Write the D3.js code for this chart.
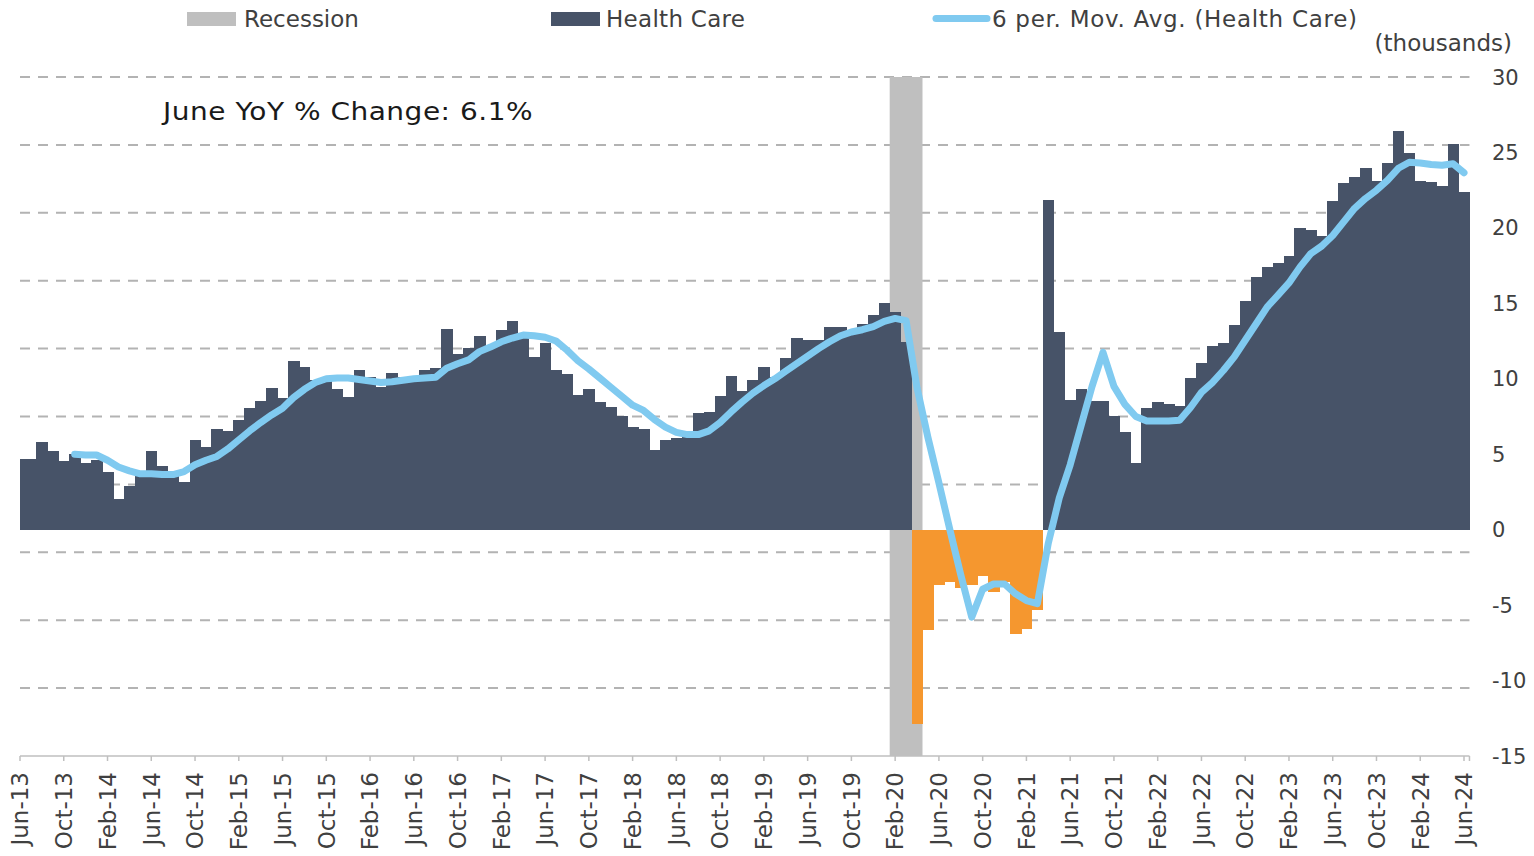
<!DOCTYPE html>
<html>
<head>
<meta charset="utf-8">
<script src="https://cdn.jsdelivr.net/npm/d3@7"></script>
<style>
  html, body { margin: 0; padding: 0; background: #ffffff; }
  svg { display: block; font-family: "DejaVu Sans", Verdana, sans-serif; }
</style>
</head>
<body>
<svg id="chart" width="1534" height="856"></svg>
<script>
// ---------------- DATA ----------------
// Monthly categories: Jun-13 ... Jun-24 (133 months)
const startMonth = new Date(2013, 5, 1);
const endMonth = new Date(2024, 6, 1);
const months = d3.timeMonth.range(startMonth, endMonth);
const fmt = d3.timeFormat("%b-%y");
const categories = months.map(fmt);

// Health Care, YoY change (thousands)
const healthCare = [
  4.7, 4.7, 5.8, 5.2, 4.55, 5.0, 4.45, 4.6, 3.8, 2.05,
  2.9, 3.9, 5.2, 4.2, 3.8, 3.15, 5.95, 5.45, 6.65, 6.55,
  7.3, 8.05, 8.55, 9.4, 8.75, 11.15, 10.8, 9.95, 9.95, 9.35,
  8.8, 10.6, 10.1, 9.45, 10.4, 10.1, 10.15, 10.55, 10.7, 13.3,
  11.65, 12.05, 12.85, 12.2, 13.2, 13.8, 13.0, 11.45, 12.35, 10.6,
  10.3, 8.9, 9.3, 8.45, 8.1, 7.55, 6.8, 6.7, 5.3, 5.95,
  6.1, 6.3, 7.7, 7.8, 8.85, 10.2, 9.2, 9.9, 10.8, 10.1,
  11.4, 12.7, 12.6, 12.6, 13.4, 13.4, 13.0, 13.6, 14.2, 15.0,
  14.4, 12.45, -12.9, -6.65, -3.65, -3.45, -3.85, -3.7, -3.1, -4.15,
  -3.5, -6.9, -6.6, -5.35, 21.85, 13.1, 8.6, 9.35, 8.55, 8.5,
  7.55, 6.45, 4.45, 8.05, 8.45, 8.3, 8.2, 10.05, 11.05, 12.2,
  12.4, 13.55, 15.15, 16.75, 17.4, 17.65, 18.15, 20.0, 19.85, 19.45,
  21.8, 22.95, 23.4, 23.95, 23.1, 24.3, 26.45, 24.95, 23.1, 23.05,
  22.75, 25.55, 22.4
];

// 6 per. Mov. Avg. (Health Care) (null where undefined)
const movAvg = [
  null, null, null, null, null, 5.0, 4.95, 4.95, 4.6, 4.15,
  3.9, 3.7, 3.7, 3.65, 3.65, 3.85, 4.3, 4.6, 4.85, 5.35,
  5.95, 6.55, 7.1, 7.6, 8.05, 8.75, 9.3, 9.75, 10.0, 10.05,
  10.05, 9.95, 9.85, 9.75, 9.8, 9.9, 10.0, 10.05, 10.1, 10.7,
  11.0, 11.25, 11.8, 12.1, 12.45, 12.7, 12.9, 12.85, 12.75, 12.5,
  11.9, 11.2, 10.65, 10.05, 9.45, 8.85, 8.25, 7.9, 7.3, 6.8,
  6.45, 6.3, 6.3, 6.55, 7.1, 7.8, 8.45, 9.05, 9.55, 10.0,
  10.5, 11.0, 11.5, 12.0, 12.45, 12.85, 13.1, 13.25, 13.45, 13.8,
  14.0, 13.85, 9.4, 6.1, 3.1, 0.0, -3.0, -5.8, -3.95, -3.6,
  -3.6, -4.25, -4.7, -4.9, -0.9, 2.1, 4.3, 6.9, 9.5, 11.75,
  9.5, 8.3, 7.5, 7.2, 7.2, 7.2, 7.25, 8.1, 9.1, 9.75,
  10.55, 11.45, 12.55, 13.65, 14.75, 15.55, 16.35, 17.4, 18.3, 18.8,
  19.5, 20.4, 21.3, 21.95, 22.5, 23.15, 23.95, 24.35, 24.3, 24.2,
  24.15, 24.25, 23.65
];

// Recession months
const recessionMonths = ["Feb-20", "Mar-20", "Apr-20"];

// Axis labels
const xTickLabels = [
  "Jun-13","Oct-13","Feb-14","Jun-14","Oct-14","Feb-15","Jun-15","Oct-15","Feb-16",
  "Jun-16","Oct-16","Feb-17","Jun-17","Oct-17","Feb-18","Jun-18","Oct-18","Feb-19",
  "Jun-19","Oct-19","Feb-20","Jun-20","Oct-20","Feb-21","Jun-21","Oct-21","Feb-22",
  "Jun-22","Oct-22","Feb-23","Jun-23","Oct-23","Feb-24","Jun-24"
];
const yTickValues = [30, 25, 20, 15, 10, 5, 0, -5, -10, -15];
const gridValues = [30, 25.5, 21, 16.5, 12, 7.5, 3, -1.5, -6, -10.5];

const legendItems = ["Recession", "Health Care", "6 per. Mov. Avg. (Health Care)"];
const unitLabel = "(thousands)";
const annotation = "June YoY % Change: 6.1%";

// ---------------- STYLE ----------------
const COLORS = {
  bar: "#475368",
  neg: "#f5972f",
  recession: "#bfbfbf",
  ma: "#80caf0",
  grid: "#b3b3b3",
  axis: "#bfbfbf",
  text: "#404040"
};

// ---------------- SCALES ----------------
const svg = d3.select("#chart");
const x = d3.scaleLinear().domain([0, categories.length - 1]).range([20, 1464]);
const y = d3.scaleLinear().domain([-15, 30]).range([756, 77]);
const step = x(1) - x(0);
const idx = c => categories.indexOf(c);
const plotLeft = 20, plotRight = x(categories.length - 1) + step / 2;

svg.append("defs").append("clipPath").attr("id", "plotClip")
  .append("rect").attr("x", plotLeft).attr("y", 0)
  .attr("width", plotRight - plotLeft + 1).attr("height", 856);

// Gridlines
svg.append("g").selectAll("line").data(gridValues).join("line")
  .attr("x1", plotLeft).attr("x2", plotRight)
  .attr("y1", d => y(d)).attr("y2", d => y(d))
  .attr("stroke", COLORS.grid).attr("stroke-width", 2)
  .attr("stroke-dasharray", "10,8");

const plot = svg.append("g").attr("clip-path", "url(#plotClip)");

// Recession band
const rIdx = recessionMonths.map(idx);
plot.append("rect")
  .attr("x", x(d3.min(rIdx)) - step / 2)
  .attr("width", (d3.max(rIdx) - d3.min(rIdx) + 1) * step)
  .attr("y", y(30)).attr("height", y(-15) - y(30))
  .attr("fill", COLORS.recession);

// Bars
plot.append("g").selectAll("rect").data(healthCare).join("rect")
  .attr("x", (d, i) => x(i) - step / 2)
  .attr("width", step + 0.6)
  .attr("y", d => y(Math.max(0, d)))
  .attr("height", d => Math.abs(y(d) - y(0)))
  .attr("fill", d => d < 0 ? COLORS.neg : COLORS.bar)
  .attr("shape-rendering", "crispEdges");

// X axis line + ticks
const tickIdx = xTickLabels.map(idx);
svg.append("line")
  .attr("x1", plotLeft).attr("x2", plotRight)
  .attr("y1", y(-15)).attr("y2", y(-15))
  .attr("stroke", COLORS.axis).attr("stroke-width", 1.5);
svg.append("g").selectAll("line").data(tickIdx).join("line")
  .attr("x1", d => x(d)).attr("x2", d => x(d))
  .attr("y1", y(-15)).attr("y2", y(-15) + 5)
  .attr("stroke", COLORS.axis).attr("stroke-width", 1.5);
svg.append("line")
  .attr("x1", plotRight).attr("x2", plotRight)
  .attr("y1", y(-15)).attr("y2", y(-15) + 5)
  .attr("stroke", COLORS.axis).attr("stroke-width", 1.5);

// X tick labels
svg.append("g").selectAll("text").data(xTickLabels).join("text")
  .attr("transform", d => `translate(${x(idx(d))},772) rotate(-90)`)
  .attr("text-anchor", "end")
  .attr("dy", "0.36em")
  .attr("font-size", 23)
  .attr("fill", COLORS.text)
  .text(d => d);

// Y tick labels (right)
svg.append("g").selectAll("text").data(yTickValues).join("text")
  .attr("x", 1492).attr("y", d => y(d))
  .attr("dy", "0.36em")
  .attr("font-size", 21)
  .attr("fill", COLORS.text)
  .text(d => d);

// Moving average line
const maLine = d3.line()
  .defined(d => d != null)
  .x((d, i) => x(i))
  .y(d => y(d));
svg.append("path")
  .datum(movAvg)
  .attr("d", maLine)
  .attr("fill", "none")
  .attr("stroke", COLORS.ma)
  .attr("stroke-width", 7)
  .attr("stroke-linejoin", "round")
  .attr("stroke-linecap", "round");

// Legend
const lg = svg.append("g").attr("font-size", 23).attr("fill", COLORS.text);
lg.append("rect").attr("x", 187).attr("y", 12).attr("width", 49).attr("height", 14).attr("fill", COLORS.recession);
lg.append("text").attr("x", 244).attr("y", 27).text(legendItems[0]);
lg.append("rect").attr("x", 551).attr("y", 12).attr("width", 49).attr("height", 14).attr("fill", COLORS.bar);
lg.append("text").attr("x", 606).attr("y", 27).attr("textLength", 139).attr("lengthAdjust", "spacing").text(legendItems[1]);
lg.append("line").attr("x1", 936).attr("x2", 987).attr("y1", 18.5).attr("y2", 18.5)
  .attr("stroke", COLORS.ma).attr("stroke-width", 7).attr("stroke-linecap", "round");
lg.append("text").attr("x", 992).attr("y", 27).attr("textLength", 365).attr("lengthAdjust", "spacing").text(legendItems[2]);

// Unit label
svg.append("text").attr("x", 1512).attr("y", 51).attr("text-anchor", "end")
  .attr("font-size", 23).attr("fill", COLORS.text).text(unitLabel);

// Annotation (glyphs drawn slightly wide, as in the reference)
svg.append("text")
  .attr("transform", "translate(163,120) scale(1.12,1)")
  .attr("font-size", 25).attr("fill", "#1a1a1a")
  .attr("textLength", 330).attr("lengthAdjust", "spacing")
  .text(annotation);
</script>
</body>
</html>
